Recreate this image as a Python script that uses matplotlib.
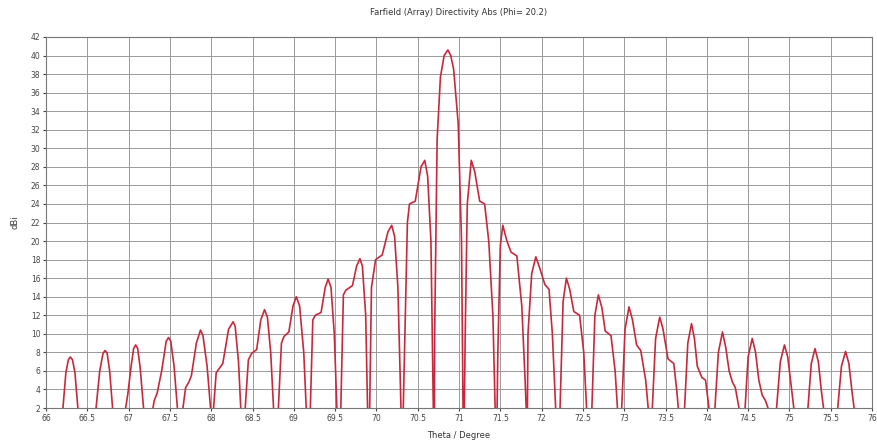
import matplotlib
matplotlib.use("Agg")
import matplotlib.pyplot as plt
from matplotlib.ticker import FuncFormatter, MultipleLocator

# Theta (deg) / directivity (dBi), lobe by lobe
theta_deg = [
    66.00, 66.10,
    # left side lobes (outer to inner)
    66.20, 66.24, 66.27, 66.295, 66.32, 66.35, 66.39, 66.49,
    66.60, 66.65, 66.69, 66.715, 66.74, 66.77, 66.81, 66.88,
    66.955, 66.99, 67.03, 67.06, 67.085, 67.11, 67.14, 67.185, 67.23,
    67.285, 67.31, 67.345, 67.40, 67.455, 67.483, 67.51, 67.55, 67.595, 67.62,
    67.65, 67.69, 67.73, 67.76, 67.82, 67.87, 67.90, 67.95, 68.00, 68.01,
    68.02, 68.06, 68.10, 68.14, 68.21, 68.265, 68.29, 68.33, 68.36, 68.38,
    68.40, 68.45, 68.49, 68.55, 68.60, 68.645, 68.68, 68.72, 68.76, 68.78,
    68.805, 68.85, 68.88, 68.94, 68.99, 69.03, 69.07, 69.12, 69.155, 69.18,
    69.195, 69.23, 69.26, 69.33, 69.38, 69.415, 69.45, 69.49, 69.525, 69.545,
    69.565, 69.60, 69.63, 69.71, 69.76, 69.80, 69.83, 69.87, 69.895, 69.915,
    69.94, 69.99, 70.07, 70.14, 70.185, 70.22, 70.26, 70.30, 70.32,
    70.345, 70.375, 70.40, 70.47, 70.54, 70.585, 70.62, 70.66, 70.69, 70.70,
    # main lobe
    70.705, 70.735, 70.775, 70.82, 70.865, 70.90, 70.935, 70.99, 71.03, 71.05, 71.055,
    # right side lobes (inner to outer)
    71.075, 71.10, 71.148, 71.19, 71.25, 71.31, 71.36, 71.41, 71.44, 71.455,
    71.47, 71.50, 71.53, 71.58, 71.63, 71.70, 71.76, 71.80, 71.82, 71.825,
    71.835, 71.88, 71.93, 71.98, 72.04, 72.09, 72.13, 72.175, 72.195,
    72.22, 72.26, 72.30, 72.34, 72.39, 72.46, 72.51, 72.55, 72.57,
    72.605, 72.645, 72.687, 72.73, 72.77, 72.84, 72.89, 72.925, 72.945,
    72.965, 73.01, 73.058, 73.10, 73.15, 73.20, 73.26, 73.30, 73.32,
    73.335, 73.38, 73.43, 73.47, 73.53, 73.60, 73.635, 73.665, 73.69,
    73.725, 73.77, 73.815, 73.85, 73.885, 73.94, 73.985, 74.04, 74.065,
    74.095, 74.14, 74.19, 74.23, 74.27, 74.31, 74.345, 74.40, 74.43,
    74.46, 74.50, 74.55, 74.59, 74.63, 74.67, 74.71, 74.76, 74.80,
    74.84, 74.89, 74.94, 74.98, 75.02, 75.06, 75.14,
    75.22, 75.265, 75.31, 75.35, 75.385, 75.42, 75.50,
    75.58, 75.63, 75.68, 75.72, 75.755, 75.79, 75.85, 76.00,
]

directivity_dbi = [
    0.0, 0.0,
    1.5, 5.8, 7.2, 7.5, 7.2, 5.8, 1.5, 0.0,
    1.5, 6.0, 7.9, 8.2, 7.9, 6.0, 1.5, 0.0,
    1.5, 3.5, 6.5, 8.4, 8.8, 8.4, 6.3, 1.5, 0.0,
    1.5, 2.8, 3.6, 6.0, 9.2, 9.6, 9.2, 6.5, 1.5, 0.0,
    1.5, 4.2, 4.8, 5.5, 9.0, 10.4, 9.8, 6.5, 1.0, 0.0,
    1.0, 5.8, 6.3, 6.8, 10.5, 11.3, 10.8, 7.0, 1.5, 0.0,
    0.5, 7.2, 7.9, 8.3, 11.5, 12.6, 11.8, 8.0, 1.0, 0.0,
    0.5, 9.0, 9.7, 10.2, 13.0, 14.0, 13.0, 8.0, 1.0, 0.0,
    0.5, 11.5, 12.0, 12.3, 15.0, 15.9, 15.0, 10.0, 1.0, 0.0,
    0.5, 14.2, 14.7, 15.2, 17.3, 18.1, 17.3, 12.0, 1.0, 0.0,
    15.0, 18.0, 18.5, 21.0, 21.7, 20.5, 15.0, 1.0, 0.0,
    10.0, 22.0, 24.0, 24.3, 28.0, 28.7, 27.0, 20.0, 1.0, -5.0,
    10.0, 31.0, 37.7, 40.0, 40.6, 40.0, 38.5, 32.7, 20.0, 1.0, -5.0,
    10.0, 24.0, 28.7, 27.5, 24.3, 24.0, 20.0, 12.0, 1.0, -2.0,
    8.0, 19.5, 21.7, 20.0, 18.8, 18.4, 13.0, 5.0, 0.5, -2.0,
    10.0, 16.5, 18.3, 17.0, 15.3, 14.8, 10.0, 1.0, -1.0,
    1.0, 13.5, 16.0, 14.8, 12.4, 12.0, 8.0, 1.0, -1.0,
    1.0, 12.0, 14.2, 12.8, 10.3, 9.8, 6.0, 1.0, -1.0,
    1.0, 10.5, 12.9, 11.5, 8.8, 8.2, 5.0, 1.0, -1.0,
    1.0, 9.5, 11.8, 10.5, 7.3, 6.8, 4.0, 1.0, -1.0,
    1.0, 9.0, 11.1, 9.5, 6.5, 5.3, 5.0, 1.0, 0.0,
    1.5, 8.0, 10.2, 8.5, 6.0, 4.8, 4.2, 1.5, 0.0,
    1.5, 7.5, 9.5, 8.0, 5.0, 3.4, 2.8, 1.5, 0.0,
    1.5, 7.0, 8.8, 7.5, 4.5, 1.5, 0.0,
    1.5, 6.8, 8.4, 7.0, 4.0, 1.5, 0.0,
    1.5, 6.5, 8.1, 6.8, 4.0, 1.5, 0.0, 0.0,
]

title_text = "Farfield (Array) Directivity Abs (Phi= 20.2)"

fig = plt.figure(figsize=(8.77, 4.42), dpi=100)
ax = fig.add_axes([0.0525, 0.0769, 0.9418, 0.8394])

ax.plot(theta_deg, directivity_dbi, color="#c8283c", linewidth=1.2)

ax.set_xlim(66, 76)
ax.set_ylim(2, 42)
ax.xaxis.set_major_locator(MultipleLocator(0.5))
ax.yaxis.set_major_locator(MultipleLocator(2))
ax.xaxis.set_major_formatter(FuncFormatter(lambda v, p: "%g" % v))
ax.yaxis.set_major_formatter(FuncFormatter(lambda v, p: "%g" % v))
ax.tick_params(labelsize=5.5, length=2, colors="#444444", pad=2)
ax.grid(True, color="#9a9a9a", linewidth=0.7)
for s in ax.spines.values():
    s.set_color("#777777")
    s.set_linewidth(0.8)

ax.set_title(title_text, fontsize=6, color="#333333", pad=16)
ax.set_ylabel("dBi", fontsize=6, color="#333333", labelpad=8)
ax.set_xlabel("Theta / Degree", fontsize=6, color="#333333", labelpad=6)

fig.savefig("out.png", dpi=100)
